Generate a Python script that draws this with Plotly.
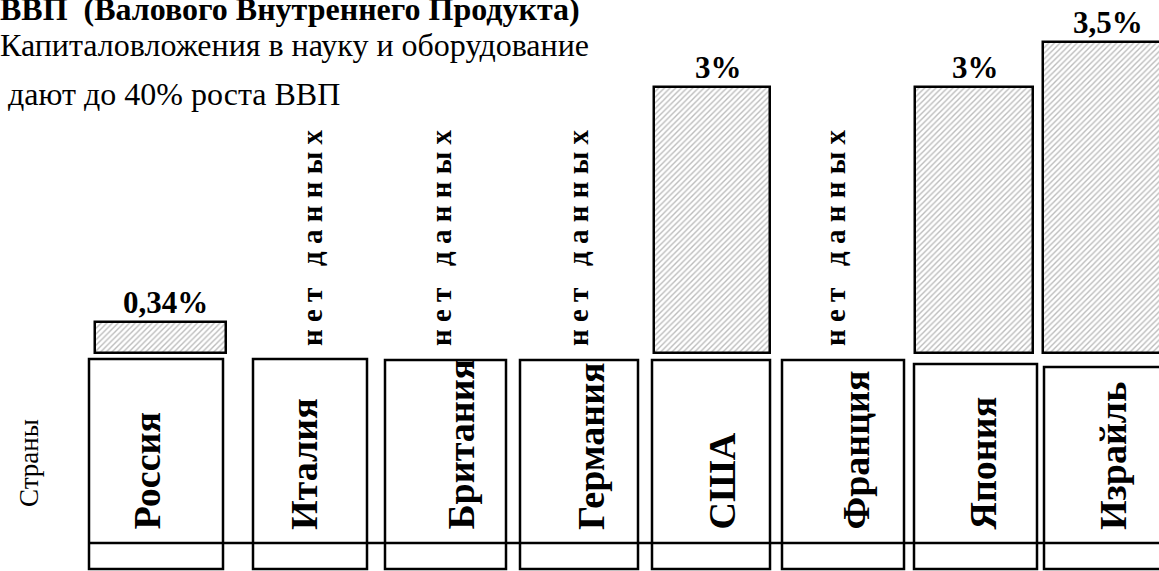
import plotly.graph_objects as go

# ---------------- data ----------------
countries = ["Россия", "Италия", "Британия", "Германия", "США", "Франция", "Япония", "Израйль"]
rd_share = [0.34, None, None, None, 3.0, None, 3.0, 3.5]          # % of GDP
value_labels = ["0,34%", None, None, None, "3%", None, "3%", "3,5%"]
no_data_text = "н е т   д а н н ы х"
title_text = "<b>ВВП  (Валового Внутреннего Продукта)</b>"
subtitle_lines = ["Капиталовложения в науку и оборудование", " дают до 40% роста ВВП"]
axis_label = "Страны"

# ---------------- layout geometry (pixels) ----------------
W, H = 1159, 571
bar_left = [95, None, None, None, 654, None, 915, 1043]
bar_right = [226, None, None, None, 770, None, 1033, 1161]
label_x = [165, None, None, None, 718, None, 975, 1108]
box_left = [89, 253, 385, 520, 652, 782, 914, 1044]
box_right = [223, 367, 506, 638, 770, 904, 1037, 1166]
box_top = [359, 359, 360, 360, 360, 360, 364, 367]
box_bottom = 569
divider_y = 543
name_x = [146, 304, 460, 591, 721, 855, 982, 1113]
name_bottom = 532
nodata_x = [None, 312, 441, 578, None, 835, None, None]
nodata_center_y = 238

base_px = 352.5      # pixel row (from top) of value 0
px_per_unit = 88.6   # pixels per 1 %

FONT = "Liberation Serif, Times New Roman, serif"


def py(y):
    """pixel row from top -> paper fraction"""
    return 1 - y / H


y_lo = -(H - base_px) / px_per_unit
y_hi = base_px / px_per_unit

fig = go.Figure()

bx, by, bw = [], [], []
for i, v in enumerate(rd_share):
    if v is None:
        continue
    bx.append((bar_left[i] + bar_right[i]) / 2)
    bw.append(bar_right[i] - bar_left[i])
    by.append(v)

fig.add_trace(go.Bar(
    x=bx, y=by, width=bw, base=0,
    marker=dict(
        color="white",
        pattern=dict(shape="/", fgcolor="#7a7a7a", bgcolor="white", size=4, solidity=0.35),
        line=dict(color="black", width=2.5),
    ),
    hoverinfo="skip", showlegend=False,
))

shapes = []
annotations = []

# value labels
for i, v in enumerate(rd_share):
    if v is None:
        continue
    annotations.append(dict(
        x=label_x[i], y=v, xref="x", yref="y", text=f"<b>{value_labels[i]}</b>",
        showarrow=False, yanchor="bottom", xanchor="center", yshift=0,
        font=dict(family=FONT, size=31, color="black"),
    ))

# "нет данных"
for i, v in enumerate(rd_share):
    if v is None:
        annotations.append(dict(
            x=nodata_x[i], y=py(nodata_center_y), xref="x", yref="paper",
            text=f"<b>{no_data_text}</b>", textangle=-90, showarrow=False,
            xanchor="center", yanchor="middle",
            font=dict(family=FONT, size=29, color="black"),
        ))

# category boxes and names
for i, c in enumerate(countries):
    shapes.append(dict(
        type="rect", xref="x", yref="paper",
        x0=box_left[i], x1=box_right[i], y0=py(box_bottom), y1=py(box_top[i]),
        line=dict(color="black", width=2.5), fillcolor="rgba(0,0,0,0)", layer="above",
    ))
    annotations.append(dict(
        x=name_x[i], y=py(name_bottom), xref="x", yref="paper",
        text=f"<b>{c}</b>", textangle=-90, showarrow=False,
        xanchor="center", yanchor="bottom",
        font=dict(family=FONT, size=38, color="black"),
    ))

shapes.append(dict(
    type="line", xref="x", yref="paper", x0=box_left[0], x1=W,
    y0=py(divider_y), y1=py(divider_y), line=dict(color="black", width=2.5), layer="above",
))

# axis label
annotations.append(dict(
    x=29, y=py(463), xref="x", yref="paper", text=axis_label, textangle=-90,
    showarrow=False, xanchor="center", yanchor="middle",
    font=dict(family=FONT, size=27, color="black"),
))

# title and subtitle
annotations.append(dict(
    x=0, y=py(9), xref="paper", yref="paper", text=title_text, showarrow=False,
    xanchor="left", yanchor="middle", xshift=-2, font=dict(family=FONT, size=32, color="black"),
))
annotations.append(dict(
    x=0, y=py(45), xref="paper", yref="paper", text=subtitle_lines[0], showarrow=False,
    xanchor="left", yanchor="middle", xshift=-2, font=dict(family=FONT, size=32, color="black"),
))
annotations.append(dict(
    x=0, y=py(94), xref="paper", yref="paper", text=subtitle_lines[1], showarrow=False,
    xanchor="left", yanchor="middle", xshift=-2, font=dict(family=FONT, size=32, color="black"),
))

fig.update_layout(
    width=W, height=H,
    margin=dict(l=0, r=0, t=0, b=0),
    paper_bgcolor="white", plot_bgcolor="white",
    xaxis=dict(range=[0, W], visible=False, fixedrange=True),
    yaxis=dict(range=[y_lo, y_hi], visible=False, fixedrange=True),
    shapes=shapes, annotations=annotations,
    bargap=0,
)

fig.write_html(
    "out.html",
    config={"displayModeBar": False},
    post_script="document.body.style.margin='0';document.body.style.overflow='hidden';",
)
